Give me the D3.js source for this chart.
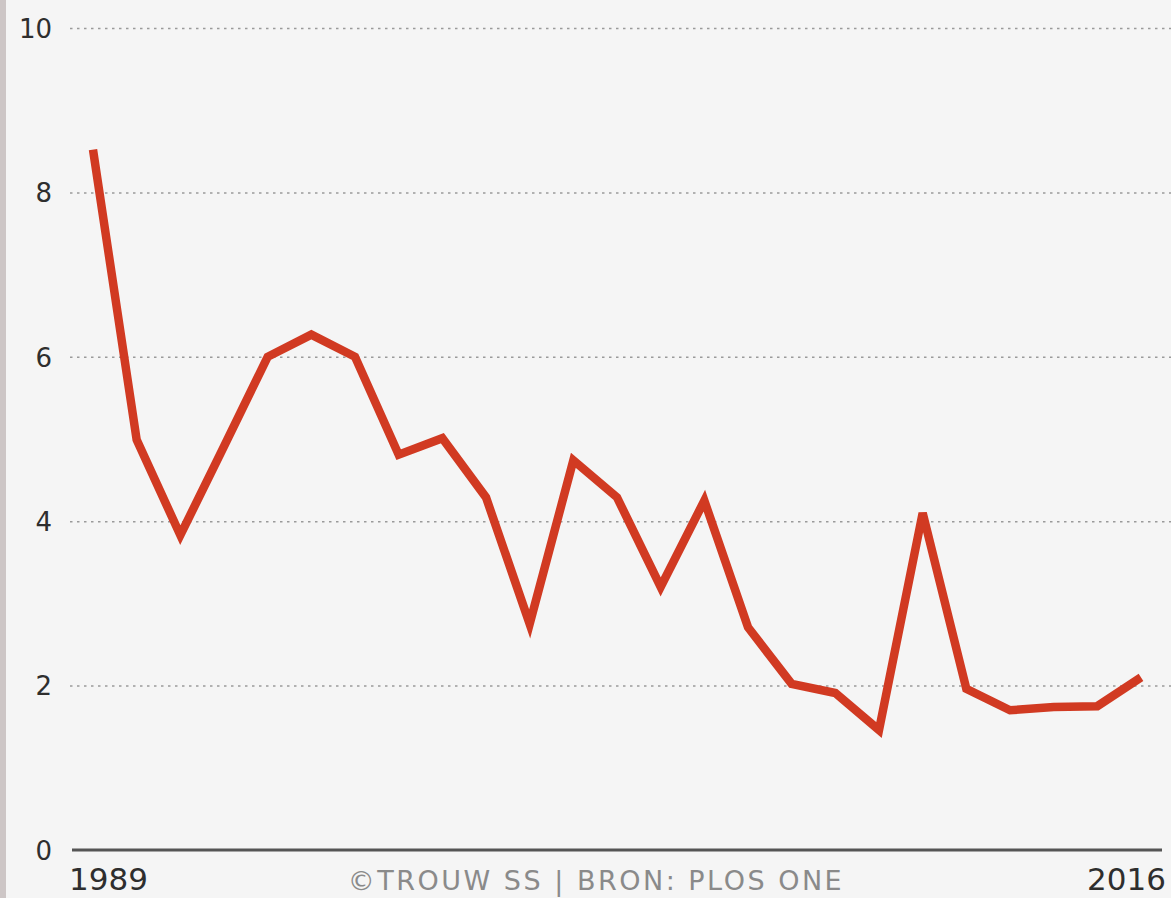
<!DOCTYPE html>
<html><head><meta charset="utf-8">
<script src="https://cdn.jsdelivr.net/npm/d3@7"></script>
<style>html,body{margin:0;padding:0;background:#f5f5f5;overflow:hidden}</style>
</head><body>
<script>
// Data (equally spaced samples from 1989 to 2016)
const samples = d3.range(25);
const values = [8.52, 4.99, 3.83, 4.91, 6.0, 6.27, 6.0, 4.81, 5.01, 4.29, 2.75, 4.74, 4.29, 3.20, 4.25, 2.71, 2.02, 1.91, 1.46, 4.10, 1.96, 1.70, 1.74, 1.75, 2.10];
const yTicks = [0, 2, 4, 6, 8, 10];
const xTickLabels = ["1989", "2016"];
const source = "©TROUW SS | BRON: PLOS ONE";

const W = 1171, H = 898;
const FONT = "'DejaVu Sans', sans-serif";
const svg = d3.select("body").append("svg").attr("width", W).attr("height", H)
  .style("font-family", FONT);
svg.append("rect").attr("width", W).attr("height", H).attr("fill", "#f5f5f5");
svg.append("rect").attr("x", 0).attr("y", 0).attr("width", 6).attr("height", H).attr("fill", "#cdc6c6");

const x = d3.scalePoint().domain(samples).range([93, 1141]);
const y = d3.scaleLinear().domain([0, 10]).range([850, 28]);

// gridlines
const grid = svg.append("g").attr("class", "grid")
  .attr("transform", "translate(70,0)")
  .call(d3.axisLeft(y).tickValues(yTicks.filter(d => d > 0)).tickSize(-(1171 - 70)).tickFormat(""));
grid.select(".domain").remove();
grid.selectAll("line").attr("stroke", "#9a9a9a").attr("stroke-width", 1.5).attr("stroke-dasharray", "2.5,4.5");

// y labels
const yl = svg.append("g").attr("transform", "translate(52,0)")
  .call(d3.axisLeft(y).tickValues(yTicks).tickSize(0).tickPadding(0));
yl.select(".domain").remove();
yl.selectAll("text").attr("font-size", 26).attr("fill", "#2e2e2e").attr("font-family", FONT).attr("dy", "0.36em");

// baseline
svg.append("line").attr("x1", 72).attr("x2", 1162).attr("y1", y(0)).attr("y2", y(0))
  .attr("stroke", "#555").attr("stroke-width", 3);

// x labels
const xl = svg.append("g").attr("transform", "translate(0,862)");
xl.append("text").attr("x", 69).attr("y", 28).attr("text-anchor", "start")
  .attr("font-size", 31).attr("fill", "#2e2e2e").text(xTickLabels[0]);
xl.append("text").attr("x", 1166).attr("y", 28).attr("text-anchor", "end")
  .attr("font-size", 31).attr("fill", "#2e2e2e").text(xTickLabels[1]);
xl.append("text").attr("x", 596).attr("y", 28).attr("text-anchor", "middle")
  .attr("font-size", 27).attr("letter-spacing", 2.5).attr("fill", "#8a8a8a").text(source);

// line
const line = d3.line().x((d, i) => x(samples[i])).y(d => y(d));
svg.append("path").datum(values).attr("d", line)
  .attr("fill", "none").attr("stroke", "#d13a22").attr("stroke-width", 8.5)
  .attr("stroke-linejoin", "miter").attr("stroke-linecap", "butt");
</script>
</body></html>
